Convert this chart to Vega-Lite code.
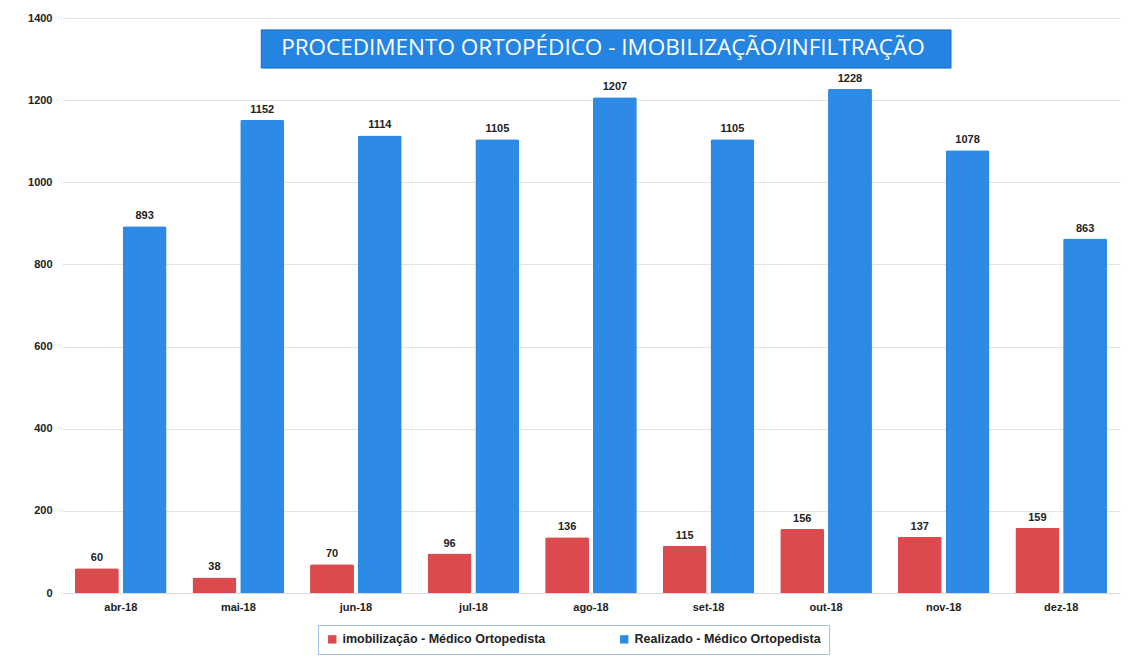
{
  "$schema": "https://vega.github.io/schema/vega-lite/v6.json",
  "width": 1058,
  "height": 575,
  "padding": {"left": 27, "top": 12, "right": 10, "bottom": 5},
  "background": "white",
  "config": {
    "view": {"stroke": null},
    "font": "Liberation Sans",
    "axis": {"labelFont": "Liberation Sans", "labelFontWeight": "bold", "labelFontSize": 11, "labelColor": "#222"}
  },
  "datasets": {
    "bars": [
      {"mes": "abr-18", "serie": "imobilização - Médico Ortopedista", "valor": 60},
      {"mes": "mai-18", "serie": "imobilização - Médico Ortopedista", "valor": 38},
      {"mes": "jun-18", "serie": "imobilização - Médico Ortopedista", "valor": 70},
      {"mes": "jul-18", "serie": "imobilização - Médico Ortopedista", "valor": 96},
      {"mes": "ago-18", "serie": "imobilização - Médico Ortopedista", "valor": 136},
      {"mes": "set-18", "serie": "imobilização - Médico Ortopedista", "valor": 115},
      {"mes": "out-18", "serie": "imobilização - Médico Ortopedista", "valor": 156},
      {"mes": "nov-18", "serie": "imobilização - Médico Ortopedista", "valor": 137},
      {"mes": "dez-18", "serie": "imobilização - Médico Ortopedista", "valor": 159},
      {"mes": "abr-18", "serie": "Realizado - Médico Ortopedista", "valor": 893},
      {"mes": "mai-18", "serie": "Realizado - Médico Ortopedista", "valor": 1152},
      {"mes": "jun-18", "serie": "Realizado - Médico Ortopedista", "valor": 1114},
      {"mes": "jul-18", "serie": "Realizado - Médico Ortopedista", "valor": 1105},
      {"mes": "ago-18", "serie": "Realizado - Médico Ortopedista", "valor": 1207},
      {"mes": "set-18", "serie": "Realizado - Médico Ortopedista", "valor": 1105},
      {"mes": "out-18", "serie": "Realizado - Médico Ortopedista", "valor": 1228},
      {"mes": "nov-18", "serie": "Realizado - Médico Ortopedista", "valor": 1078},
      {"mes": "dez-18", "serie": "Realizado - Médico Ortopedista", "valor": 863}
    ],
    "titulo": [{"texto": "PROCEDIMENTO ORTOPÉDICO - IMOBILIZAÇÃO/INFILTRAÇÃO", "de": "mai-18", "ate": "nov-18", "meio": "ago-18"}]
  },
  "layer": [
    {
      "data": {"name": "bars"},
      "mark": {"type": "bar", "cornerRadiusTopLeft": 2, "cornerRadiusTopRight": 2},
      "encoding": {
        "x": {
          "field": "mes", "type": "nominal", "sort": null, "title": null,
          "scale": {"paddingInner": 0.22, "paddingOuter": 0.11},
          "axis": {"labelAngle": 0, "ticks": false, "domain": true, "domainColor": "#d9d9d9", "labelPadding": 8}
        },
        "y": {
          "field": "valor", "type": "quantitative", "title": null,
          "scale": {"domain": [0, 1400]},
          "axis": {"values": [0, 200, 400, 600, 800, 1000, 1200, 1400], "format": "d", "ticks": false, "domain": false, "labelPadding": 10, "gridColor": "#e3e3e3"}
        },
        "xOffset": {"field": "serie", "type": "nominal", "sort": ["imobilização - Médico Ortopedista", "Realizado - Médico Ortopedista"], "scale": {"paddingInner": 0.08}},
        "color": {
          "field": "serie", "type": "nominal",
          "sort": ["imobilização - Médico Ortopedista", "Realizado - Médico Ortopedista"],
          "scale": {"domain": ["imobilização - Médico Ortopedista", "Realizado - Médico Ortopedista"], "range": ["#DB4A4C", "#2D8BE6"]},
          "legend": {
            "orient": "none", "legendX": 256, "legendY": 607, "direction": "horizontal", "title": null,
            "symbolType": "square", "symbolSize": 70, "labelFontSize": 12.5, "labelFontWeight": "bold", "labelLimit": 0,
            "labelColor": "#222", "strokeColor": "#9dc3e6", "padding": 8, "columnPadding": 72
          }
        }
      }
    },
    {
      "data": {"name": "bars"},
      "mark": {"type": "text", "dy": -10, "fontWeight": "bold", "fontSize": 11, "color": "#222"},
      "encoding": {
        "x": {"field": "mes", "type": "nominal", "sort": null},
        "y": {"field": "valor", "type": "quantitative"},
        "xOffset": {"field": "serie", "type": "nominal", "sort": ["imobilização - Médico Ortopedista", "Realizado - Médico Ortopedista"], "scale": {"paddingInner": 0.08}},
        "text": {"field": "valor", "type": "quantitative"}
      }
    },
    {
      "data": {"name": "titulo"},
      "mark": {"type": "rect", "color": "#2484E2", "stroke": "#1c6fc4", "strokeWidth": 1},
      "encoding": {
        "x": {"field": "de", "type": "nominal", "sort": null, "bandPosition": 0.75},
        "x2": {"field": "ate", "bandPosition": 0.58},
        "y": {"datum": 1371, "type": "quantitative"},
        "y2": {"datum": 1278}
      }
    },
    {
      "data": {"name": "titulo"},
      "mark": {"type": "text", "font": "Open Sans", "fontSize": 22.5, "letterSpacing": 1.8, "color": "white", "align": "center", "baseline": "middle"},
      "encoding": {
        "x": {"field": "meio", "type": "nominal", "sort": null, "bandPosition": 0.63},
        "y": {"datum": 1326, "type": "quantitative"},
        "text": {"field": "texto"}
      }
    }
  ]
}
